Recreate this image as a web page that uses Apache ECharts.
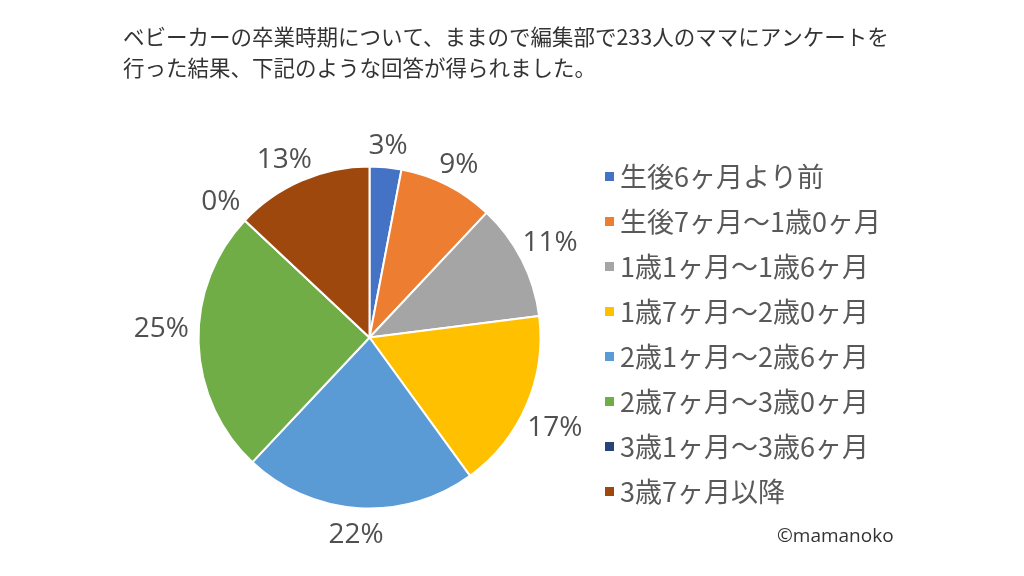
<!DOCTYPE html>
<html>
<head>
<meta charset="utf-8">
<script src="https://cdn.jsdelivr.net/npm/echarts@6/dist/echarts.min.js"></script>
<style>
html,body{margin:0;padding:0;background:#fff;}
#main{width:1024px;height:576px;}
</style>
</head>
<body>
<div id="main"></div>
<script>
const titleText = 'ベビーカーの卒業時期について、ままので編集部で233人のママにアンケートを\n行った結果、下記のような回答が得られました。';
const categories = ['生後6ヶ月より前', '生後7ヶ月～1歳0ヶ月', '1歳1ヶ月～1歳6ヶ月', '1歳7ヶ月～2歳0ヶ月', '2歳1ヶ月～2歳6ヶ月', '2歳7ヶ月～3歳0ヶ月', '3歳1ヶ月～3歳6ヶ月', '3歳7ヶ月以降'];
const percentValues = [3, 9, 11, 17, 22, 25, 0, 13];
const colors = ['#4472C4', '#ED7D31', '#A5A5A5', '#FFC000', '#5B9BD5', '#70AD47', '#264478', '#9E480E'];
const creditText = '©mamanoko';

const CX = 369.5, CY = 337.5, R = 171;
const total = percentValues.reduce((a, b) => a + b, 0);

function clamp(v) { return Math.max(-1, Math.min(1, v)); }

const chart = echarts.init(document.getElementById('main'), null, {renderer: 'canvas'});
chart.setOption({
  backgroundColor: '#ffffff',
  animation: false,
  color: colors,
  title: {
    text: titleText,
    left: 118,
    top: 16,
    textStyle: {
      fontFamily: 'Noto Sans CJK JP',
      fontSize: 21.5,
      lineHeight: 31,
      fontWeight: 'normal',
      color: '#333333'
    }
  },
  legend: {
    orient: 'vertical',
    left: 598,
    top: 158,
    itemWidth: 11,
    itemHeight: 11,
    itemGap: 18,
    icon: 'rect',
    data: categories,
    textStyle: {
      fontFamily: 'Noto Sans CJK JP',
      fontSize: 27,
      lineHeight: 27,
      color: '#595959'
    }
  },
  graphic: [{
    type: 'text',
    left: 777,
    top: 527,
    style: {
      text: creditText,
      fontFamily: 'Open Sans',
      fontSize: 19,
      fill: '#333333'
    }
  }],
  series: [{
    type: 'pie',
    center: [CX, CY],
    radius: R,
    startAngle: 90,
    clockwise: true,
    avoidLabelOverlap: false,
    minShowLabelAngle: 0,
    itemStyle: {borderColor: '#ffffff', borderWidth: 2},
    label: {
      show: true,
      position: 'outside',
      formatter: '{d}%',
      fontFamily: 'Open Sans',
      fontSize: 28,
      color: '#505050'
    },
    labelLine: {show: false},
    emphasis: {disabled: true},
    labelLayout: function (p) {
      const i = p.dataIndex;
      let before = 0;
      for (let j = 0; j < i; j++) before += percentValues[j];
      const mid = (before + percentValues[i] / 2) / total * Math.PI * 2;
      const dx = Math.sin(mid), dy = -Math.cos(mid);
      const d = R + 7;
      const hw = p.labelRect.width / 2;
      const k = dx > 0 ? 0.8 : 1.1;
      const ox = clamp(dx * 1.2) * hw * k;
      const oy = dy > 0.2 ? 20 : -14;
      return {x: CX + d * dx + ox, y: CY + d * dy + oy, align: 'center', verticalAlign: 'middle'};
    },
    data: categories.map((c, i) => ({name: c, value: percentValues[i]}))
  }]
});
</script>
</body>
</html>
